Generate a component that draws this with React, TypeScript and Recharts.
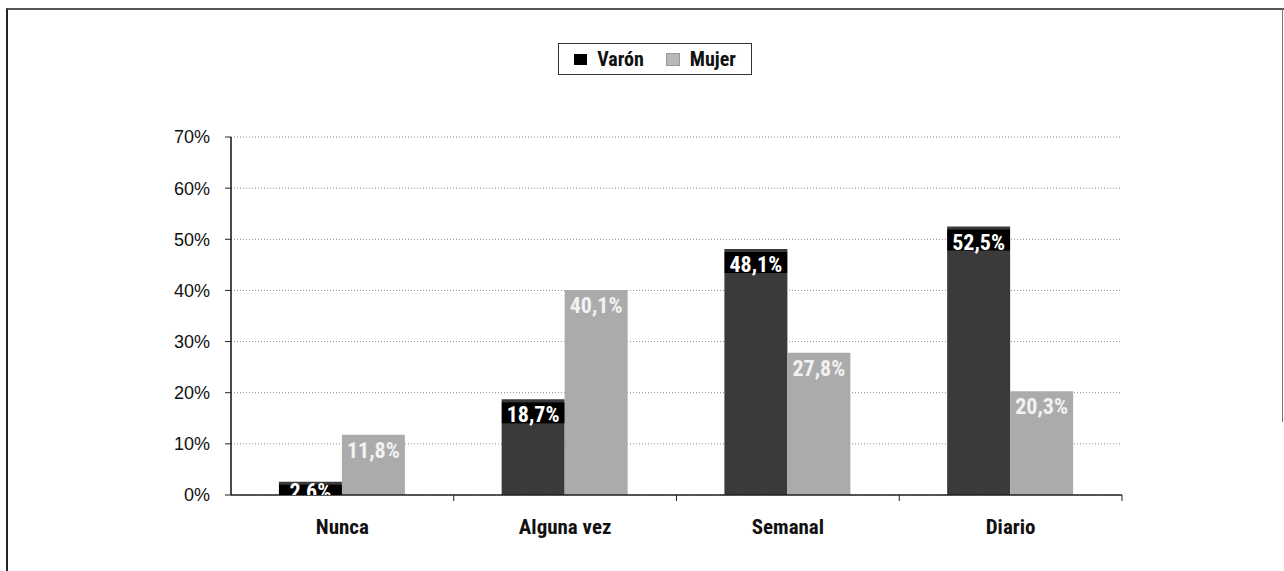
import React from 'react';
import { BarChart, Bar, XAxis, YAxis, CartesianGrid, Legend, LabelList } from 'recharts';

const categories = ['Nunca', 'Alguna vez', 'Semanal', 'Diario'];
const varon = [2.6, 18.7, 48.1, 52.5];
const mujer = [11.8, 40.1, 27.8, 20.3];
const yTicks = [0, 10, 20, 30, 40, 50, 60, 70];

const data = categories.map((c, i) => ({ cat: c, varon: varon[i], mujer: mujer[i] }));

const W = 1284;
const H = 571;
const MARGIN = { top: 137, right: 162, bottom: 36, left: 171 };
const Y_AXIS_W = 60;
const X_AXIS_H = 40;
const PLOT_W = W - MARGIN.left - MARGIN.right - Y_AXIS_W;
const BAND = PLOT_W / categories.length;

const NARROW = "'Liberation Sans Narrow', 'Arial Narrow', 'Roboto Condensed', 'DejaVu Sans Condensed', sans-serif";
const REG = "'Liberation Sans', Arial, sans-serif";

const VARON_COLOR = '#3a3a3a';
const MUJER_COLOR = '#ababab';

const fmt = (v: number) => v.toFixed(1).replace('.', ',') + '%';

const makeLabel = (boxed: boolean, id: string) => (props: any) => {
  const { x, y, width, height, value, index } = props;
  const cx = x + width / 2;
  const baseline = y + Math.min(23, height + 4);
  const clipId = `clip-${id}-${index}`;
  return (
    <g>
      <defs>
        <clipPath id={clipId}>
          <rect x={x} y={y} width={width} height={height} />
        </clipPath>
      </defs>
      <g clipPath={`url(#${clipId})`}>
        {boxed && <rect x={x} y={y + Math.min(3, height / 4)} width={width} height={21} fill="#000" />}
        <text x={cx} y={baseline} textAnchor="middle" fill={boxed ? '#fff' : '#f2f2f2'} fontFamily={NARROW} fontWeight="bold" fontSize={22}>
          {fmt(value)}
        </text>
      </g>
    </g>
  );
};

const CatTick = (props: any) => {
  const { x, y, payload } = props;
  return (
    <g>
      <line x1={x + BAND / 2} x2={x + BAND / 2} y1={y - 8} y2={y - 2} stroke="#222" strokeWidth={1} />
      <text x={x} y={y + 31} textAnchor="middle" fill="#111" fontFamily={NARROW} fontWeight="bold" fontSize={21}>
        {payload.value}
      </text>
    </g>
  );
};

const LegendBox = () => (
  <div style={{
    border: '1px solid #333', height: 32, boxSizing: 'border-box', display: 'flex', alignItems: 'center',
    justifyContent: 'center', fontFamily: NARROW, fontWeight: 'bold', fontSize: 20, color: '#111', background: '#fff'
  }}>
    <span style={{ display: 'inline-block', width: 13, height: 11, background: '#000', marginRight: 10 }} />
    <span style={{ marginRight: 22 }}>Varón</span>
    <span style={{ display: 'inline-block', width: 12, height: 11, background: '#b8b8b8', border: '1px solid #999', marginRight: 10 }} />
    <span>Mujer</span>
  </div>
);

export default function App() {
  return (
    <div style={{ position: 'absolute', left: 0, top: 0, width: W, height: H, background: '#fff', overflow: 'hidden' }}>
      <div style={{ position: 'absolute', left: 6, top: 8, width: 1290, height: 600, borderLeft: '2px solid #222', borderTop: '2px solid #555' }} />
      <div style={{ position: 'absolute', left: 1282, top: 8, width: 1, height: 414, background: '#777' }} />
      <BarChart width={W} height={H} data={data} margin={MARGIN} barCategoryGap="21.5%" barGap={0}>
        <CartesianGrid vertical={false} stroke="#888" strokeDasharray="1 2" />
        <XAxis dataKey="cat" height={X_AXIS_H} tickLine={false} axisLine={{ stroke: '#222', strokeWidth: 1.5 }} tick={<CatTick />} interval={0} />
        <YAxis width={Y_AXIS_W} domain={[0, 70]} ticks={yTicks} tickFormatter={(v: number) => `${v}%`}
          axisLine={{ stroke: '#111', strokeWidth: 1.5 }} tickLine={{ stroke: '#222' }} tickSize={6} tickMargin={15}
          tick={{ fill: '#111', fontFamily: REG, fontSize: 18 }} allowDataOverflow />
        <Legend layout="horizontal" verticalAlign="middle" align="center" content={<LegendBox />}
          wrapperStyle={{ position: 'absolute', top: 43, left: 558, width: 194 }} />
        <Bar dataKey="varon" name="Varón" fill={VARON_COLOR} isAnimationActive={false}>
          <LabelList dataKey="varon" content={makeLabel(true, 'v')} />
        </Bar>
        <Bar dataKey="mujer" name="Mujer" fill={MUJER_COLOR} isAnimationActive={false}>
          <LabelList dataKey="mujer" content={makeLabel(false, 'm')} />
        </Bar>
      </BarChart>
    </div>
  );
}
